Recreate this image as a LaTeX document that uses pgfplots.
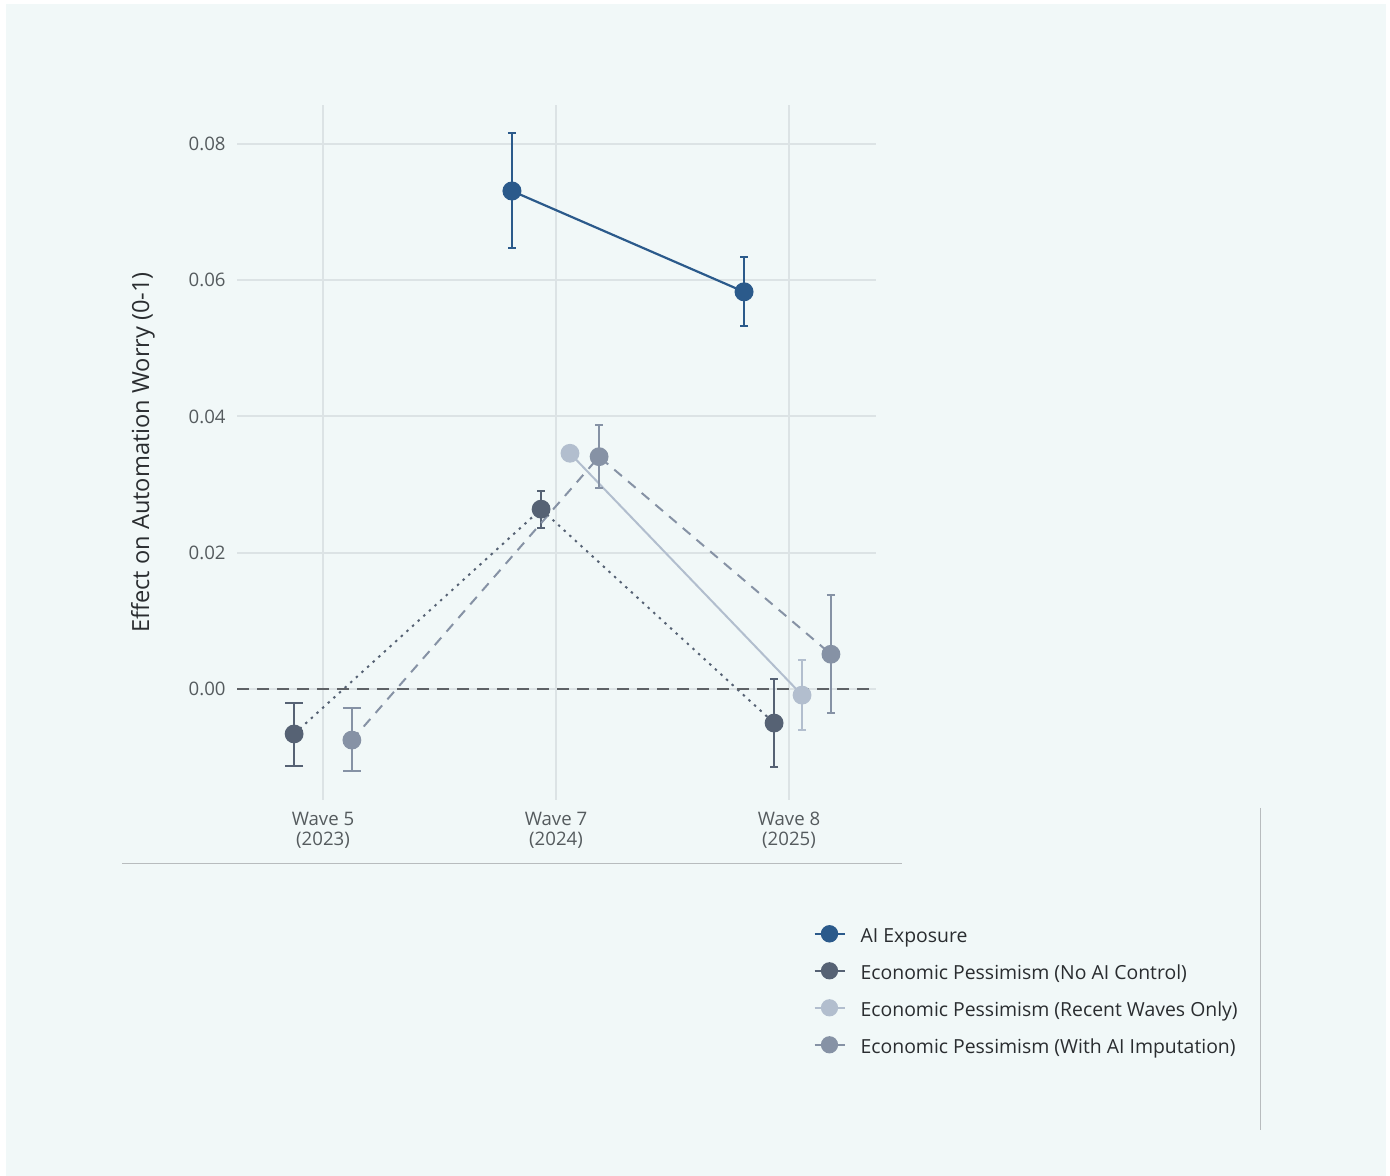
\documentclass[border=0pt]{standalone}
\usepackage{fontspec}
\setmainfont{Open Sans}
\usepackage{pgfplots}
\pgfplotsset{compat=1.18}
\usepackage{pgfplotstable}
\definecolor{bg}{HTML}{F1F8F8}
\definecolor{gridc}{HTML}{DCE3E5}
\definecolor{aic}{HTML}{2B5A8B}
\definecolor{noai}{HTML}{566274}
\definecolor{recent}{HTML}{B2BECE}
\definecolor{imput}{HTML}{8692A5}
\definecolor{zeroc}{HTML}{5E6266}
\definecolor{tickc}{HTML}{555B5E}
\definecolor{labc}{HTML}{2A2D30}
\definecolor{framec}{HTML}{B8BCBE}

\pgfplotstableread{
x y ep em
0.811 0.0731 0.0085 0.0084
1.807 0.0583 0.0051 0.0050
}\aitab
\pgfplotstableread{
x y ep em
-0.124 -0.0066 0 0
0.936 0.0264 0.0027 0.0028
1.936 -0.0050 0.0065 0.0065
}\noaitab
\pgfplotstableread{
x y ep em
1.060 0.0346 0 0
2.056 -0.0009 0.0052 0.0051
}\recenttab
\pgfplotstableread{
x y ep em
0.124 -0.0075 0 0
1.185 0.0341 0.0047 0.0046
2.180 0.0051 0.0087 0.0086
}\imputtab
\pgfplotstableread{
x y ep em
-0.124 -0.0066 0.0045 0.0047
}\noaiwfive
\pgfplotstableread{
x y ep em
0.124 -0.0075 0.0047 0.0045
}\imputwfive

\begin{document}
\begin{tikzpicture}
\fill[white] (0pt,0pt) rectangle (695pt,588pt);
\fill[bg] (3pt,0pt) rectangle (693pt,586pt);
\draw[framec, line width=0.5pt] (61pt,156pt) -- (451pt,156pt);
\draw[framec, line width=0.5pt] (630pt,184pt) -- (630pt,23pt);
\begin{axis}[
  at={(118.5pt,188pt)}, anchor=south west,
  scale only axis, width=319.5pt, height=347.5pt,
  xmin=-0.3691, xmax=2.3734,
  ymin=-0.016294, ymax=0.085725,
  axis line style={draw=none},
  tick style={draw=none},
  grid=major,
  grid style={gridc, line width=1pt},
  xtick={0,1,2},
  xticklabels={{Wave 5\\(2023)},{Wave 7\\(2024)},{Wave 8\\(2025)}},
  xticklabel style={align=center, font=\fontsize{9.3}{10}\selectfont, text=tickc, inner sep=0pt, anchor=north, yshift=-6pt},
  ytick={0,0.02,0.04,0.06,0.08},
  yticklabel style={font=\fontsize{9.3}{11}\selectfont, text=tickc, inner sep=0pt, anchor=east, xshift=-5.5pt,
    /pgf/number format/.cd, fixed, fixed zerofill, precision=2, assume math mode=true},
  scaled y ticks=false,
  ylabel={Effect on Automation Worry (0-1)},
  every axis y label/.style={at={(axis description cs:-0.1471,0.5)}, rotate=90, anchor=center,
    font=\fontsize{11.8}{13}\selectfont, text=labc},
  legend style={at={(axis description cs:0.9014,-0.1810)}, anchor=north west,
    draw=none, fill=none, inner sep=0pt, row sep=7.95pt, column sep=7.5pt,
    font=\fontsize{9.7}{11}\selectfont, text=labc,
    nodes={inner sep=0pt, text height=7pt, text depth=2.5pt}},
  legend cell align=left,
  legend image code/.code={\draw[#1,solid,mark size=3.8pt,mark repeat=2,mark phase=2] plot coordinates {(0pt,2.0pt)(7.5pt,2.0pt)(15pt,2.0pt)};},
  clip=false,
]
% wave-5 error bars with wide caps
\addplot[forget plot, noai, only marks, mark=none,
  error bars/.cd, y dir=both, y explicit,
  error bar style={line width=1pt, solid},
  error mark options={rotate=90, mark size=4.5pt, line width=1pt}]
  table[x=x, y=y, y error plus=ep, y error minus=em] {\noaiwfive};
\addplot[forget plot, imput, only marks, mark=none,
  error bars/.cd, y dir=both, y explicit,
  error bar style={line width=1pt, solid},
  error mark options={rotate=90, mark size=4.5pt, line width=1pt}]
  table[x=x, y=y, y error plus=ep, y error minus=em] {\imputwfive};

\addplot[aic, line width=1.1pt, mark=*, mark size=4.2pt, mark options={solid, fill=aic, draw=aic},
  error bars/.cd, y dir=both, y explicit,
  error bar style={line width=1pt, solid},
  error mark options={rotate=90, mark size=2pt, line width=1pt}]
  table[x=x, y=y, y error plus=ep, y error minus=em] {\aitab};
\addlegendentry{AI Exposure}
\addplot[noai, line width=1pt, dash pattern=on 1.2pt off 2.6pt, mark=*, mark size=4.2pt, mark options={solid, fill=noai, draw=noai},
  error bars/.cd, y dir=both, y explicit,
  error bar style={line width=1pt, solid},
  error mark options={rotate=90, mark size=2pt, line width=1pt}]
  table[x=x, y=y, y error plus=ep, y error minus=em] {\noaitab};
\addlegendentry{Economic Pessimism (No AI Control)}
\addplot[recent, line width=1pt, mark=*, mark size=4.2pt, mark options={solid, fill=recent, draw=recent},
  error bars/.cd, y dir=both, y explicit,
  error bar style={line width=1pt, solid},
  error mark options={rotate=90, mark size=2pt, line width=1pt}]
  table[x=x, y=y, y error plus=ep, y error minus=em] {\recenttab};
\addlegendentry{Economic Pessimism (Recent Waves Only)}
\addplot[imput, line width=1pt, dash pattern=on 5pt off 4pt, mark=*, mark size=4.2pt, mark options={solid, fill=imput, draw=imput},
  error bars/.cd, y dir=both, y explicit,
  error bar style={line width=1pt, solid},
  error mark options={rotate=90, mark size=2pt, line width=1pt}]
  table[x=x, y=y, y error plus=ep, y error minus=em] {\imputtab};
\addlegendentry{Economic Pessimism (With AI Imputation)}

\addplot[forget plot, zeroc, line width=1pt, dash pattern=on 6pt off 4pt] coordinates {(-0.3691,0) (2.3734,0)};
\end{axis}
\end{tikzpicture}
\end{document}
